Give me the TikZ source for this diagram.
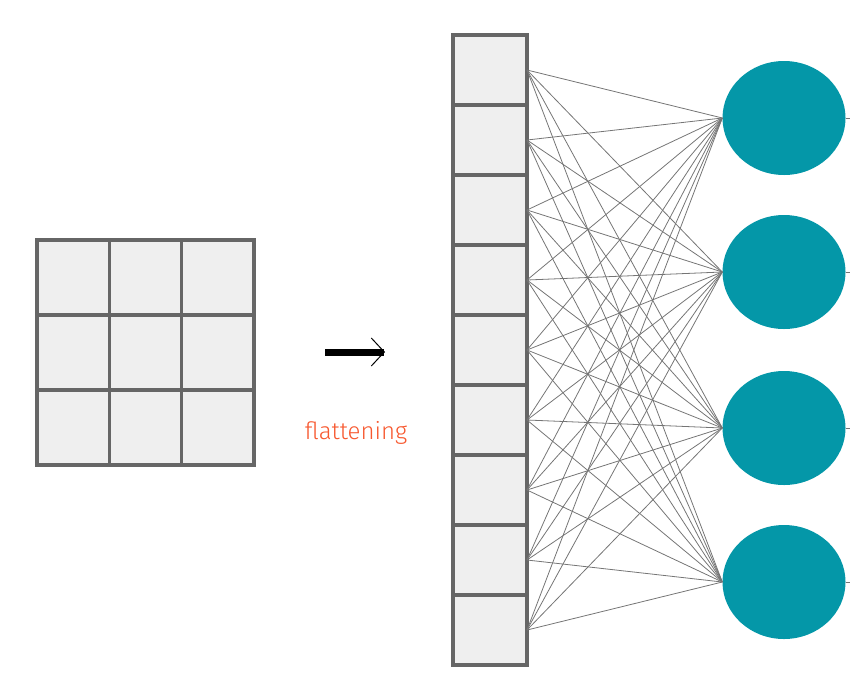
\documentclass[tikz,border=0pt]{standalone}
\usepackage{fontspec}
\newfontfamily\handfont{Fira Sans Light}
\usetikzlibrary{arrows.meta}
\definecolor{cellfill}{HTML}{EFEFEF}
\definecolor{cellline}{HTML}{666666}
\definecolor{teal}{HTML}{0497A8}
\definecolor{orng}{HTML}{F7582F}
\tikzset{
 cell/.style={draw=cellline,fill=cellfill,line width=3.5pt},
 neuron/.style={ellipse,fill=teal,minimum width=123pt,minimum height=114pt,inner sep=0pt},
 conn/.style={draw=cellline!90,line width=0.8pt}
}
\usetikzlibrary{shapes.geometric}
\begin{document}
\begin{tikzpicture}[x=1pt,y=-1pt]
\useasboundingbox (0,0) rectangle (850,678);
% 3x3 grid
\foreach \i in {0,1,2}{\foreach \j in {0,1,2}{
 \draw[cell] (37+72.3*\i,240+75*\j) rectangle ++(72.3,75);}}
% arrow
\coordinate (as) at (325,352);
\coordinate (ae) at (385,352);
\draw[line width=7pt,-{Straight Barb[length=13pt,width=28pt,line width=1pt]}] (as) -- (ae);
\node[text=orng,font=\handfont\fontsize{24}{24}\selectfont] (lbl) at (356,433) {flattening};
% column
\foreach \k in {1,...,9}{
 \draw[cell] (453,35+70*\k-70) rectangle ++(74,70);
 \coordinate (c\k) at (527,70*\k);}
% neurons
\foreach \n/\y in {1/118,2/272,3/428,4/582}{
 \node[neuron] (n\n) at (784,\y) {};
 \coordinate (o\n) at (850,\y);}
\begin{scope}[on background layer/.style={}]
\foreach \k in {1,...,9}{\foreach \n in {1,...,4}{
 \draw[conn] (c\k) -- (n\n.west);}}
\end{scope}
\foreach \n in {1,...,4}{\draw[conn] (n\n.east) -- (o\n);}
\end{tikzpicture}
\end{document}
